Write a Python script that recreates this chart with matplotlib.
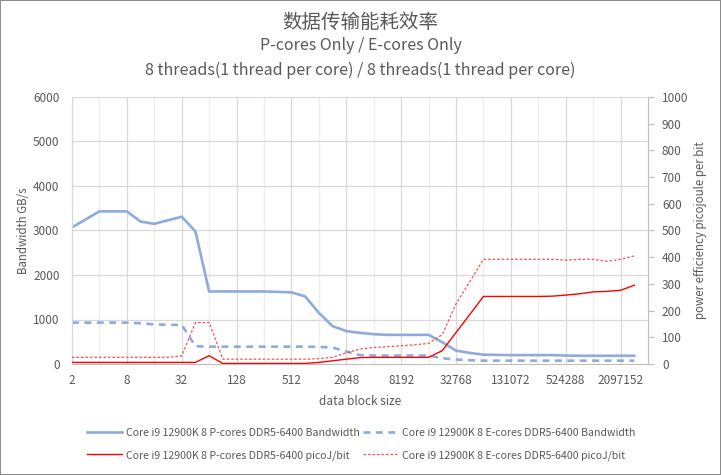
#!/usr/bin/env python3
import numpy as np
import matplotlib
matplotlib.use('Agg')
import matplotlib.pyplot as plt

plt.rcParams['font.family'] = ['Noto Sans CJK SC', 'DejaVu Sans']

#%% data
block_size = [2, 3, 4, 6, 8, 12, 16, 24, 32, 48, 64, 96, 128, 192, 256, 384, 512, 768,
              1024, 1536, 2048, 3072, 4096, 6144, 8192, 12288, 16384, 24576, 32768, 49152,
              65536, 98304, 131072, 196608, 262144, 393216, 524288, 786432, 1048576,
              1572864, 2097152, 3145728]

p_bw = [3070, 3250, 3430, 3430, 3430, 3200, 3150, 3230, 3310, 2980, 1630, 1630, 1630, 1630,
        1630, 1620, 1610, 1520, 1150, 850, 740, 700, 670, 655, 655, 655, 655, 490, 300, 250,
        210, 205, 200, 200, 200, 200, 190, 185, 185, 185, 185, 185]
e_bw = [930, 930, 930, 930, 930, 915, 890, 880, 880, 400, 390, 390, 390, 390, 390, 390, 390,
        390, 385, 370, 280, 200, 190, 190, 190, 190, 190, 130, 100, 85, 75, 75, 75, 75, 75, 75,
        75, 75, 75, 75, 75, 75]
p_pj = [6, 6, 6, 6, 6, 6, 6, 6, 6, 6, 31, 2, 2, 2, 2, 2, 2, 2, 6, 12, 18, 24, 25, 25, 25, 25,
        25, 50, 118, 185, 253, 253, 253, 253, 253, 254, 258, 263, 270, 272, 276, 295]
e_pj = [25, 25, 25, 25, 25, 25, 25, 25, 30, 155, 155, 18, 18, 18, 18, 18, 18, 18, 20, 25, 42,
        56, 62, 65, 68, 72, 77, 110, 225, 308, 392, 392, 392, 392, 392, 392, 389, 392, 392,
        385, 392, 405]

labels = ['Core i9 12900K 8 P-cores DDR5-6400 Bandwidth',
          'Core i9 12900K 8 E-cores DDR5-6400 Bandwidth',
          'Core i9 12900K 8 P-cores DDR5-6400 picoJ/bit',
          'Core i9 12900K 8 E-cores DDR5-6400 picoJ/bit']

txt = '#595959'
blue = '#8FAADC'
red = '#FF0000'

fig = plt.figure(figsize=(7.21, 4.75), dpi=100)
fig.patch.set_edgecolor('#8c8c8c')
fig.patch.set_linewidth(1.2)

ax = fig.add_axes([72/721, 1 - 364/475, 576/721, 267/475])
x = np.arange(len(block_size))

# grid: major every 4 categories, minor in between
for i in range(0, 42, 2):
    ax.axvline(i, color='#D9D9D9' if i % 4 == 0 else '#EDEDED', lw=0.9, zorder=0)
for v in range(1000, 7000, 1000):
    ax.axhline(v, color='#D9D9D9', lw=0.9, zorder=0)

l1, = ax.plot(x, p_bw, color=blue, lw=1.9, solid_joinstyle='round')
l2, = ax.plot(x, e_bw, color=blue, lw=1.9, dashes=(2.6, 2.1))
ax.set_xlim(0, 42)
ax.set_ylim(0, 6000)
ax.set_yticks(range(0, 7000, 1000))
ax.set_xticks(x[::4])
ax.set_xticklabels([str(b) for b in block_size[::4]])
ax.tick_params(axis='both', length=0, labelsize=8.5, colors=txt)
ax.tick_params(axis='x', pad=7)
ax.tick_params(axis='y', pad=9)
ax.spines['top'].set_visible(False)
ax.spines['right'].set_visible(False)
ax.spines['left'].set_color('#D9D9D9')
ax.spines['bottom'].set_color('#BFBFBF')
ax.set_xlabel('data block size', fontsize=8.5, color=txt, labelpad=6)
ax.set_ylabel('Bandwidth GB/s', fontsize=8.3, color=txt, labelpad=2)

ax2 = ax.twinx()
l3, = ax2.plot(x, p_pj, color=red, lw=1.0)
l4, = ax2.plot(x, e_pj, color='#FF4B4B', lw=0.9, dashes=(2.0, 1.6))
ax2.set_ylim(0, 1000)
ax2.set_yticks(range(0, 1100, 100))
ax2.tick_params(axis='y', length=4, width=0.9, color='#BFBFBF', labelsize=8.5, colors=txt, pad=6)
ax2.tick_params(axis='y', color='#BFBFBF')
for s in ['top', 'left', 'bottom']:
    ax2.spines[s].set_visible(False)
ax2.spines['right'].set_color('#BFBFBF')
ax2.set_ylabel('power efficiency picojoule per bit', fontsize=8.3, color=txt, labelpad=4)

fig.text(0.5, 1 - 22/475, '数据传输能耗效率', ha='center', va='center', fontsize=14, color=txt)
fig.text(0.5, 1 - 46/475, 'P-cores Only / E-cores Only', ha='center', va='center',
         fontsize=11.5, color=txt)
fig.text(0.5, 1 - 70/475, '8 threads(1 thread per core) / 8 threads(1 thread per core)',
         ha='center', va='center', fontsize=11.5, color=txt)

fig.legend([l1, l3, l2, l4], [labels[0], labels[2], labels[1], labels[3]],
           loc='upper left', bbox_to_anchor=(87/721, 1 - 428/475), ncol=2, frameon=False,
           fontsize=7.6, labelcolor=txt, handlelength=3.3, handletextpad=0.35,
           columnspacing=0.35, labelspacing=1.15, borderpad=0, borderaxespad=0)

fig.savefig('out.png', dpi=100)
